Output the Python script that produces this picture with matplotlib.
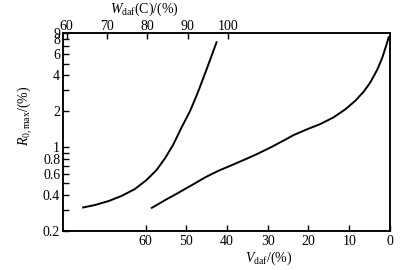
import matplotlib
matplotlib.use('Agg')
import matplotlib.pyplot as plt
from matplotlib.ticker import FixedLocator, FixedFormatter, NullLocator

plt.rcParams['font.family'] = ['Liberation Serif', 'DejaVu Serif']
plt.rcParams['mathtext.fontset'] = 'custom'
plt.rcParams['mathtext.rm'] = 'Liberation Serif'
plt.rcParams['mathtext.it'] = 'Liberation Serif:italic'
plt.rcParams['font.size'] = 10

# curve vs carbon content W_daf(C), top axis
w_carbon = [64.1, 67.0, 70.4, 73.7, 76.9, 79.8, 82.3, 84.4, 86.4, 88.5,
            90.6, 92.3, 93.9, 95.6, 97.2]
r_carbon = [0.315, 0.330, 0.356, 0.394, 0.448, 0.533, 0.646, 0.809, 1.045,
            1.46, 2.00, 2.73, 3.77, 5.36, 7.53]

# curve vs volatile matter V_daf, bottom axis
v_vol = [58.47, 55.20, 51.93, 48.64, 45.37, 42.09, 38.80, 35.53, 32.26,
         28.97, 25.87, 23.65, 20.36, 17.09, 13.82, 10.94, 8.48, 6.44, 4.79,
         3.15, 1.92, 0.86, 0.30]
r_vol = [0.313, 0.363, 0.418, 0.484, 0.562, 0.638, 0.711, 0.794, 0.891,
         1.011, 1.150, 1.266, 1.413, 1.564, 1.780, 2.076, 2.448, 2.912,
         3.488, 4.418, 5.53, 7.14, 8.29]

y_ticks = [0.2, 0.3, 0.4, 0.5, 0.6, 0.7, 0.8, 0.9, 1, 2, 3, 4, 5, 6, 7, 8, 9]
y_labels = ['0.2', '', '0.4', '', '0.6', '', '0.8', '', '1', '2', '', '4', '',
            '6', '', '8', '9']
v_ticks = [60, 50, 40, 30, 20, 10, 0]
w_ticks = [60, 70, 80, 90, 100]

fig = plt.figure(figsize=(4.17, 2.70), dpi=100)
ax = fig.add_axes([0.151, 0.144, 0.784, 0.734])

ax.plot(v_vol, r_vol, color='black', lw=1.4)
ax.set_yscale('log')
ax.set_ylim(0.2, 9)
ax.set_xlim(80.3, 0)
ax.yaxis.set_major_locator(FixedLocator(y_ticks))
ax.yaxis.set_major_formatter(FixedFormatter(y_labels))
ax.yaxis.set_minor_locator(NullLocator())
ax.set_xticks(v_ticks)
ax.tick_params(direction='in', length=4, width=1, top=False, right=False,
               pad=3, labelsize=10)
ax.tick_params(axis='y', pad=2)
ax.set_xlabel(r'$V_{\mathrm{daf}}$/(%)', fontsize=10, labelpad=0)
ax.xaxis.set_label_coords(0.63, -0.095)
ax.set_ylabel(r'$R_{\mathrm{0,max}}$/(%)', fontsize=10)
ax.yaxis.set_label_coords(-0.09, 0.58)

ax2 = ax.twiny()
ax2.plot(w_carbon, r_carbon, color='black', lw=1.4)
ax2.set_xlim(59.1, 140.2)
ax2.set_xticks(w_ticks)
ax2.tick_params(direction='in', length=4, width=1, pad=0, labelsize=10)
ax2.set_xlabel(r'$W_{\mathrm{daf}}$(C)/(%)', fontsize=10, labelpad=2)
ax2.xaxis.set_label_coords(0.25, 1.10)

for a in (ax, ax2):
    for s in a.spines.values():
        s.set_linewidth(1.1)

fig.savefig('out.png', dpi=100)
